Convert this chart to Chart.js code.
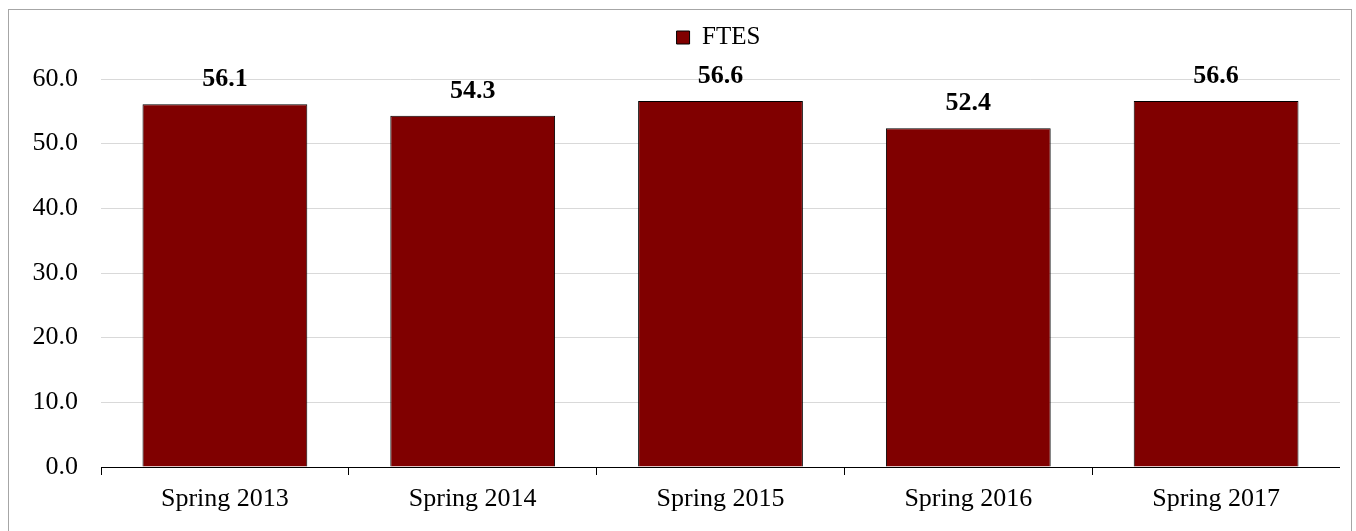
<!DOCTYPE html>
<html>
<head>
<meta charset="utf-8">
<script src="https://cdn.jsdelivr.net/npm/chart.js@4/dist/chart.umd.min.js"></script>
<style>
  body { margin: 0; background: #fff; overflow: hidden; }
  #frame { position: absolute; left: 8px; top: 9px; width: 1342px; height: 540px; border: 1px solid #a6a6a6; }
  #c { position: absolute; left: 0; top: 0; }
</style>
</head>
<body>
<div id="frame"><canvas id="c" width="1331" height="521"></canvas></div>
<script>
var categories = ["Spring 2013", "Spring 2014", "Spring 2015", "Spring 2016", "Spring 2017"];
var ftes = [56.1, 54.3, 56.6, 52.4, 56.6];
var seriesName = "FTES";

var fontFam = "'Liberation Serif', 'Times New Roman', serif";

// bold value above each bar
var valueLabels = {
    id: 'valueLabels',
    afterDatasetsDraw: function(chart) {
        var ctx = chart.ctx;
        var meta = chart.getDatasetMeta(0);
        ctx.save();
        ctx.font = "bold 26px " + fontFam;
        ctx.fillStyle = "#000";
        ctx.textAlign = "center";
        ctx.textBaseline = "alphabetic";
        meta.data.forEach(function(bar, i) {
            ctx.fillText(ftes[i].toFixed(1), bar.x, bar.y - 18);
        });
        ctx.restore();
    }
};

// fixed legend height, and nudge it right to sit over the plot centre
var legendHeight = {
    id: 'legendHeight',
    beforeInit: function(chart) {
        var fit = chart.legend.fit;
        chart.legend.fit = function() {
            fit.bind(chart.legend)();
            this.height = 69;
            if (this.lineWidths && this.lineWidths.length) {
                this.lineWidths[0] -= 88;
            }
        };
    }
};

new Chart(document.getElementById("c"), {
    type: 'bar',
    data: {
        labels: categories,
        datasets: [{
            label: seriesName,
            data: ftes,
            backgroundColor: '#800000',
            borderColor: '#000000',
            borderWidth: 1,
            categoryPercentage: 1,
            barPercentage: 0.665
        }]
    },
    options: {
        responsive: false,
        animation: false,
        layout: { padding: 0 },
        plugins: {
            tooltip: { enabled: false },
            legend: {
                position: 'top',
                labels: {
                    boxWidth: 13,
                    boxHeight: 13,
                    padding: 15,
                    color: '#000',
                    font: { family: fontFam, size: 25 }
                }
            }
        },
        scales: {
            x: {
                afterFit: function(s) { s.height = 64; },
                grid: { display: true, offset: true, drawOnChartArea: false, drawTicks: true, tickLength: 8, color: '#000' },
                border: { display: true, color: '#000', width: 1 },
                ticks: { color: '#000', padding: 9, font: { family: fontFam, size: 26 } }
            },
            y: {
                min: 0,
                max: 60,
                afterFit: function(s) { s.width = 92; },
                grid: { color: '#d9d9d9', drawTicks: false },
                border: { display: false },
                ticks: {
                    stepSize: 10,
                    padding: 23,
                    color: '#000',
                    font: { family: fontFam, size: 26 },
                    callback: function(v) { return v.toFixed(1); }
                }
            }
        }
    },
    plugins: [valueLabels, legendHeight]
});
</script>
</body>
</html>
